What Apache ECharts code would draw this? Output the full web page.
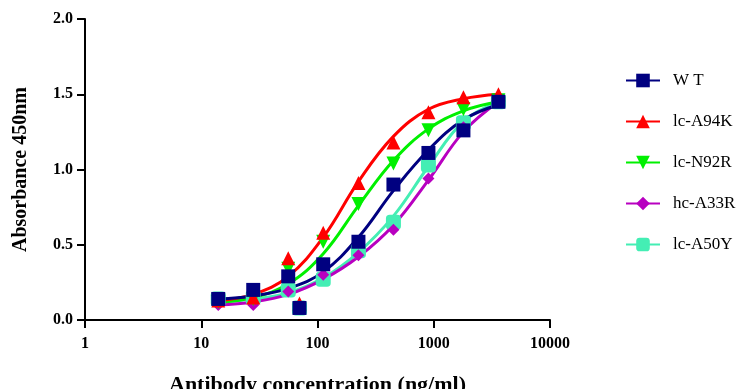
<!DOCTYPE html>
<html>
<head>
<meta charset="utf-8">
<script src="https://cdn.jsdelivr.net/npm/echarts@6/dist/echarts.min.js"></script>
<style>
  html, body { margin: 0; padding: 0; background: #fff; }
  #chart { width: 739px; height: 389px; }
</style>
</head>
<body>
<div id="chart"></div>
<script>
// antibody concentrations (ng/ml)
const conc = [14, 28, 56, 112, 225, 450, 900, 1800, 3600];
const names = ["W T", "lc-A94K", "lc-N92R", "hc-A33R", "lc-A50Y"];
const colors = ["#000080", "#ff0000", "#00f000", "#b800c0", "#44eeb4"];

// measured points
const wtPts = [0.14, 0.20, 0.29, 0.37, 0.52, 0.90, 1.11, 1.26, 1.45];
const a94kPts = [0.13, 0.15, 0.41, 0.58, 0.91, 1.18, 1.38, 1.48, 1.50];
const n92rPts = [0.12, 0.14, 0.34, 0.52, 0.77, 1.04, 1.26, 1.40, 1.46];
const a33rPts = [0.10, 0.10, 0.19, 0.30, 0.43, 0.60, 0.94, 1.28, 1.45];
const a50yPts = [0.14, 0.15, 0.20, 0.27, 0.46, 0.65, 1.03, 1.31, 1.45];

// stray point at 70 ng/ml
const oddConc = 70;
const oddPts = [0.08, 0.11, null, null, 0.08];

// fitted curves at the same concentrations
const wtFit = [0.14, 0.16, 0.21, 0.32, 0.55, 0.86, 1.13, 1.33, 1.43];
const a94kFit = [0.13, 0.17, 0.29, 0.55, 0.92, 1.22, 1.40, 1.47, 1.50];
const n92rFit = [0.12, 0.15, 0.24, 0.44, 0.76, 1.06, 1.27, 1.39, 1.45];
const a33rFit = [0.10, 0.12, 0.17, 0.27, 0.42, 0.63, 0.93, 1.25, 1.45];
const a50yFit = [0.12, 0.14, 0.18, 0.28, 0.45, 0.69, 1.02, 1.32, 1.45];

const pts = [wtPts, a94kPts, n92rPts, a33rPts, a50yPts];
const fits = [wtFit, a94kFit, n92rFit, a33rFit, a50yFit];
const symbols = ["rect", "triangle", "triangle", "diamond", "roundRect"];
const rotates = [0, 0, 180, 0, 0];
const sizes = [14, 14, 14, 12, 15];

const font = "Liberation Serif";
const chart = echarts.init(document.getElementById("chart"));

const series = [];
// draw order: cyan, magenta, green, red, WT on top
[4, 3, 2, 1, 0].forEach(function (i) {
  series.push({
    name: names[i],
    type: "line",
    smooth: 0.4,
    showSymbol: false,
    symbol: symbols[i],
    symbolSize: sizes[i],
    symbolRotate: rotates[i],
    color: colors[i],
    lineStyle: { width: 3, color: colors[i] },
    data: conc.map(function (c, k) { return [c, fits[i][k]]; }),
    z: 2
  });
  const data = conc.map(function (c, k) { return [c, pts[i][k]]; });
  if (oddPts[i] != null) data.push([oddConc, oddPts[i]]);
  series.push({
    name: names[i],
    type: "scatter",
    symbol: symbols[i],
    symbolSize: sizes[i],
    symbolRotate: rotates[i],
    itemStyle: { color: colors[i], opacity: 1 },
    data: data,
    z: 3
  });
});

chart.setOption({
  animation: false,
  textStyle: { fontFamily: font },
  grid: { left: 85, right: 189, top: 19, bottom: 69, outerBoundsMode: "none" },
  legend: {
    data: names,
    orient: "vertical",
    left: 620,
    top: 67,
    itemWidth: 34,
    itemHeight: 17,
    itemGap: 24,
    textStyle: { fontFamily: font, fontSize: 17, color: "#000", padding: [0, 0, 0, 8] }
  },
  xAxis: {
    type: "log",
    logBase: 10,
    min: 1,
    max: 10000,
    name: "Antibody concentration (ng/ml)",
    nameLocation: "middle",
    nameGap: 54,
    nameTextStyle: { fontFamily: font, fontWeight: "bold", fontSize: 22, color: "#000" },
    axisLine: { lineStyle: { color: "#000", width: 2 } },
    axisTick: { length: 8, lineStyle: { color: "#000", width: 2 } },
    axisLabel: {
      fontFamily: font, fontWeight: "bold", fontSize: 16, color: "#000", margin: 16,
      formatter: function (v) { return String(Math.round(v)); }
    },
    splitLine: { show: false },
    minorTick: { show: false }
  },
  yAxis: {
    type: "value",
    min: 0,
    max: 2,
    interval: 0.5,
    name: "Absorbance 450nm",
    nameLocation: "middle",
    nameGap: 54,
    nameTextStyle: { fontFamily: font, fontWeight: "bold", fontSize: 20, color: "#000" },
    axisLine: { show: true, lineStyle: { color: "#000", width: 2 } },
    axisTick: { show: true, length: 8, lineStyle: { color: "#000", width: 2 } },
    axisLabel: {
      fontFamily: font, fontWeight: "bold", fontSize: 16, color: "#000", margin: 12,
      formatter: function (v) { return v.toFixed(1); }
    },
    splitLine: { show: false }
  },
  series: series
});
</script>
</body>
</html>
